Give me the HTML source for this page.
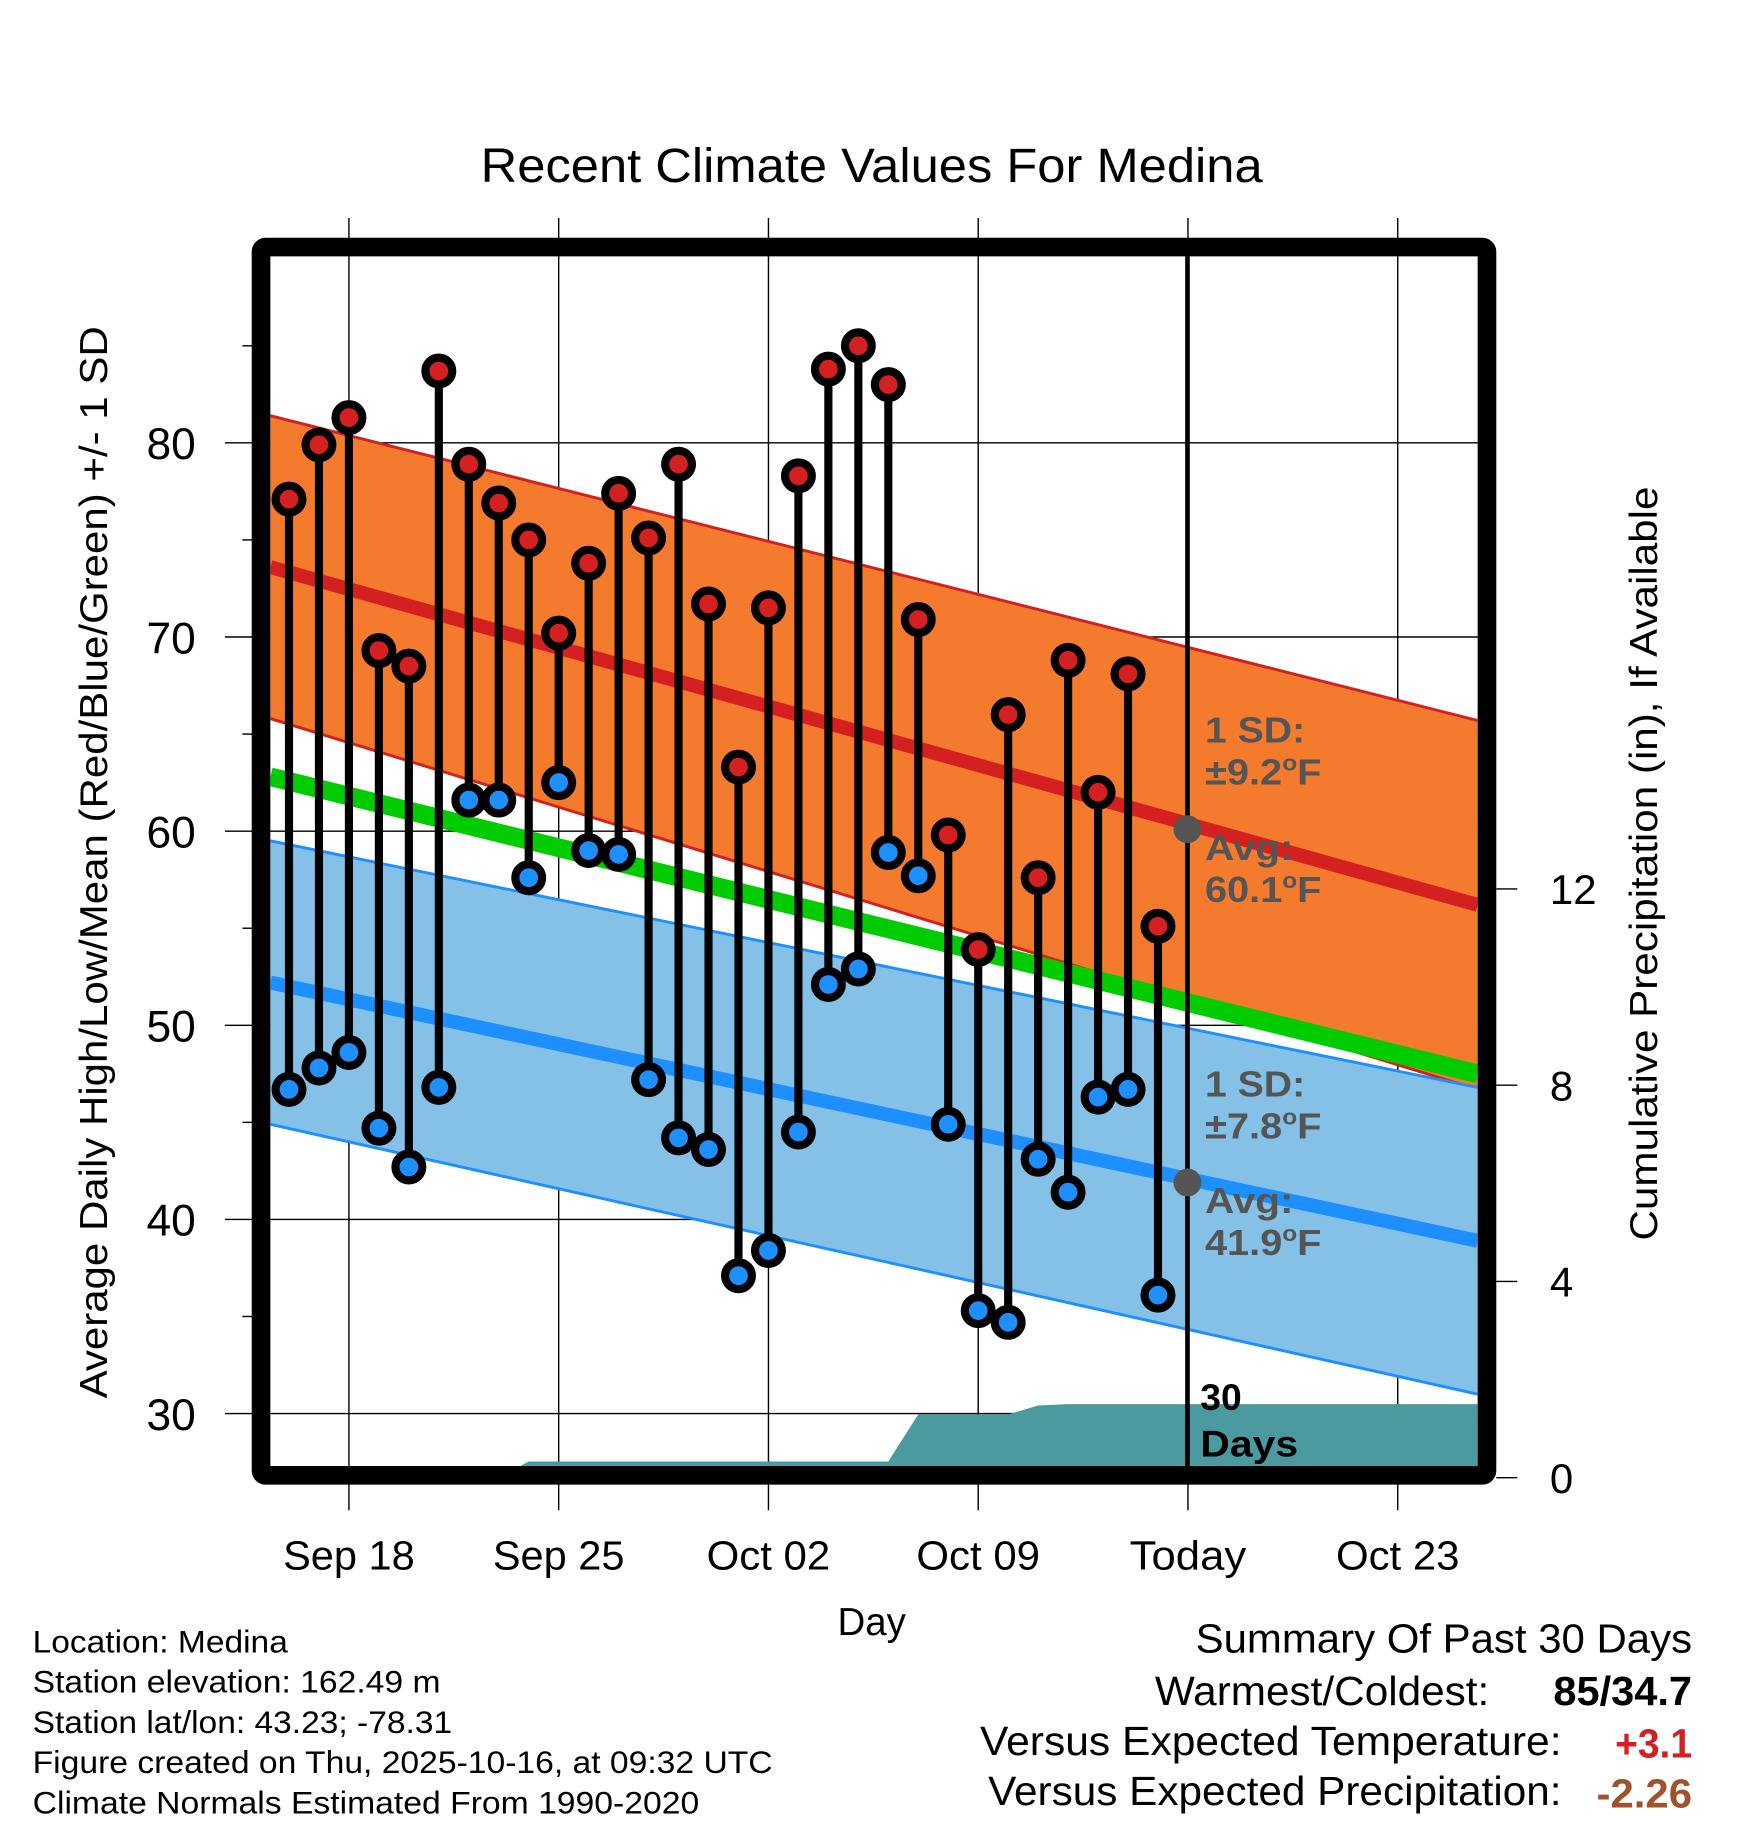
<!DOCTYPE html>
<html><head><meta charset="utf-8"><style>
html,body{margin:0;padding:0;background:#fff}
svg{display:block;font-family:"Liberation Sans",Arial,sans-serif}
</style></head><body>
<svg id="chart" width="1748" height="1828" viewBox="0 0 1500 1568.6" xmlns="http://www.w3.org/2000/svg">
<text x="748" y="156" font-size="41" text-anchor="middle" textLength="671" lengthAdjust="spacingAndGlyphs">Recent Climate Values For Medina</text>
<g id="plot"></g>
</svg>
<script>
const days = ["Sep 16","Sep 17","Sep 18","Sep 19","Sep 20","Sep 21","Sep 22","Sep 23","Sep 24","Sep 25","Sep 26","Sep 27","Sep 28","Sep 29","Sep 30","Oct 01","Oct 02","Oct 03","Oct 04","Oct 05","Oct 06","Oct 07","Oct 08","Oct 09","Oct 10","Oct 11","Oct 12","Oct 13","Oct 14","Oct 15"];
const highs = [77.1,79.9,81.3,69.3,68.5,83.7,78.9,76.9,75.0,70.2,73.8,77.4,75.1,78.9,71.7,63.3,71.5,78.3,83.8,85.0,83.0,70.9,59.8,53.9,66.0,57.6,68.8,62.0,68.1,55.1];
const lows = [46.7,47.8,48.6,44.7,42.7,46.8,61.6,61.6,57.6,62.5,59.0,58.8,47.2,44.2,43.6,37.1,38.4,44.5,52.1,52.9,58.9,57.7,44.9,35.3,34.7,43.1,41.4,46.3,46.7,36.1];
const precip = [0,0,0,0,0,0,0,0,0.33,0.33,0.33,0.33,0.33,0.33,0.33,0.33,0.33,0.33,0.33,0.33,0.33,1.29,1.29,1.29,1.29,1.47,1.5,1.5,1.5,1.5];
const normHigh = [73.6,56.2];
const sdHigh = [7.8,9.5];
const normMean = [62.8,47.5];
const normLow = [52.2,38.9];
const sdLow = [7.3,7.9];
const yTicks = [30,40,50,60,70,80];
const yMinor = [35,45,55,65,75,85];
const pTicks = [0,4,8,12];
const xTickLabels = ["Sep 18","Sep 25","Oct 02","Oct 09","Today","Oct 23"];
const xTickDays = [2,9,16,23,30,37];

const X0=232,X1=1268,Y0=220,Y1=1260;
const xDay = d => 248 + d*25.714;
const yT = v => 380 + (80-v)*16.66;
const yP = v => 1268 - v*42.1;
const NS="http://www.w3.org/2000/svg";
const g=document.getElementById('plot');
function mk(tag,attrs,parent){const e=document.createElementNS(NS,tag);for(const k in attrs)e.setAttribute(k,attrs[k]);(parent||g).appendChild(e);return e;}

const defs=mk('defs',{});const cp=mk('clipPath',{id:'cp'},defs);mk('rect',{x:X0,y:Y0,width:X1-X0,height:Y1-Y0},cp);
for(const v of yTicks){const l=mk('line',{x1:193,x2:X1,y1:yT(v),y2:yT(v),stroke:'#000','stroke-width':1.2});

}
for(const v of yMinor){const l=mk('line',{x1:208,x2:218,y1:yT(v),y2:yT(v),stroke:'#000','stroke-width':1.2});

}
xTickDays.forEach(d=>{const l=mk('line',{x1:xDay(d),x2:xDay(d),y1:187,y2:1296,stroke:'#000','stroke-width':1.2});

});

const pc=mk('g',{'clip-path':'url(#cp)'});
function band(a,b,fill,edge,name){
  const p=mk('polygon',{points:`${X0},${yT(a[0])} ${X1},${yT(a[1])} ${X1},${yT(b[1])} ${X0},${yT(b[0])}`,fill:fill},pc);
  
  
  [a,b].forEach(s=>{const l=mk('line',{x1:X0,y1:yT(s[0]),x2:X1,y2:yT(s[1]),stroke:edge,'stroke-width':2.5},pc);
  
  });
}
band([normHigh[0]+sdHigh[0],normHigh[1]+sdHigh[1]],[normHigh[0]-sdHigh[0],normHigh[1]-sdHigh[1]],'#f47b2e','#d42020','high-sd-band');
band([normLow[0]+sdLow[0],normLow[1]+sdLow[1]],[normLow[0]-sdLow[0],normLow[1]-sdLow[1]],'#85c1e6','#1e8fff','low-sd-band');
function mline(s,col,w,name){const l=mk('line',{x1:X0,y1:yT(s[0]),x2:X1,y2:yT(s[1]),stroke:col,'stroke-width':w},pc);

}
mline(normHigh,'#d42020',12,'normal-high-line');
mline(normMean,'#00cc00',16,'normal-mean-line');
mline(normLow,'#1e8fff',12,'normal-low-line');

let pts=`${X0},${yP(0)} ${X0},${yP(precip[0])}`;
precip.forEach((v,i)=>{pts+=` ${xDay(i)},${yP(v)}`;});
pts+=` ${X1},${yP(precip[precip.length-1])} ${X1},${yP(0)}`;
const pa=mk('polygon',{points:pts,fill:'#4a9aa0'},pc);



const tl=mk('line',{x1:1019,x2:1019,y1:Y0,y2:Y1,stroke:'#000','stroke-width':4});



days.forEach((d,i)=>{
  const x=xDay(i);
  const s=mk('line',{x1:x,x2:x,y1:yT(highs[i]),y2:yT(lows[i]),stroke:'#000','stroke-width':7});
  
  
  [[highs[i],'#d42020','high'],[lows[i],'#1e8fff','low']].forEach(([v,c,n])=>{
    const o=mk('circle',{cx:x,cy:yT(v),r:11.5,fill:c,stroke:'#000','stroke-width':7});
    
    
  });
});
[[60.1],[41.9]].forEach(([v],k)=>{const c=mk('circle',{cx:1019,cy:yT(v),r:12,fill:'#555'});

});

const fr=mk('rect',{x:224,y:212,width:1052,height:1054,fill:'none',stroke:'#000','stroke-width':16,rx:4});



function txt(s,x,y,attrs,name,len){const a=Object.assign({x:x,y:y},attrs);if(len){a.textLength=len;a.lengthAdjust='spacingAndGlyphs';}
const t=mk('text',a);t.innerHTML=s;

return t;}
const an={'font-size':31,'font-weight':'bold',fill:'#555'};
const deg='<tspan font-size="19" dy="-12">o</tspan><tspan dy="12">F</tspan>';
txt('1 SD:',1034,637,an,'high-sd-label',86);
txt('±9.2'+deg,1034,673,an,'high-sd-value',100);
txt('Avg:',1034,738,an,'high-avg-label',76);
txt('60.1'+deg,1034,774,an,'high-avg-value',100);
txt('1 SD:',1034,941,an,'low-sd-label',86);
txt('±7.8'+deg,1034,977,an,'low-sd-value',100);
txt('Avg:',1034,1041,an,'low-avg-label',76);
txt('41.9'+deg,1034,1077,an,'low-avg-value',100);
txt('30',1030,1210,{'font-size':32,'font-weight':'bold'},'days-count-label');
txt('Days',1030,1250,{'font-size':32,'font-weight':'bold'},'days-label',84);

yTicks.forEach(v=>txt(String(v),168,yT(v)+14,{'font-size':38,'text-anchor':'end'},'y-tick-label'));
pTicks.forEach(v=>{const l=mk('line',{x1:1284,x2:1302,y1:yP(v),y2:yP(v),stroke:'#000','stroke-width':1.2});


txt(String(v),1330,yP(v)+13,{'font-size':36},'precip-tick-label');});
xTickLabels.forEach((s,i)=>txt(s,xDay(xTickDays[i]),1347,{'font-size':35,'text-anchor':'middle'},'x-tick-label', s==='Today'?100:(s==='Oct 02'||s==='Oct 09'||s==='Oct 23'?106:113)));
txt('Day',748,1403,{'font-size':33,'text-anchor':'middle'},'x-axis-title');
txt('Average Daily High/Low/Mean (Red/Blue/Green) +/- 1 SD',0,0,{'font-size':33,'text-anchor':'middle',transform:'translate(92,740) rotate(-90)'},'y-axis-title',920);
txt('Cumulative Precipitation (in), If Available',0,0,{'font-size':33,'text-anchor':'middle',transform:'translate(1422,741) rotate(-90)'},'y2-axis-title',647);

const foot=[['Location: Medina',219],['Station elevation: 162.49 m',350],['Station lat/lon: 43.23; -78.31',360],['Figure created on Thu, 2025-10-16, at 09:32 UTC',635],['Climate Normals Estimated From 1990-2020',572]];
foot.forEach(([s,w],i)=>txt(s,28,1418+i*34.5,{'font-size':27},'station-info-line',w));
txt('Summary Of Past 30 Days',1452,1418,{'font-size':35,'text-anchor':'end'},'summary-title',426);
txt('Warmest/Coldest:',1278,1463,{'font-size':35,'text-anchor':'end'},'warmest-coldest-label',287);
txt('85/34.7',1452,1463,{'font-size':35,'text-anchor':'end','font-weight':'bold'},'warmest-coldest-value',119);
txt('Versus Expected Temperature:',1340,1506,{'font-size':35,'text-anchor':'end'},'temp-anomaly-label',499);
txt('+3.1',1452,1508,{'font-size':35,'text-anchor':'end','font-weight':'bold',fill:'#d42020'},'temp-anomaly-value',66);
txt('Versus Expected Precipitation:',1340,1549,{'font-size':35,'text-anchor':'end'},'precip-anomaly-label',492);
txt('-2.26',1452,1551,{'font-size':35,'text-anchor':'end','font-weight':'bold',fill:'#a0522d'},'precip-anomaly-value',82);
</script>
</body></html>
